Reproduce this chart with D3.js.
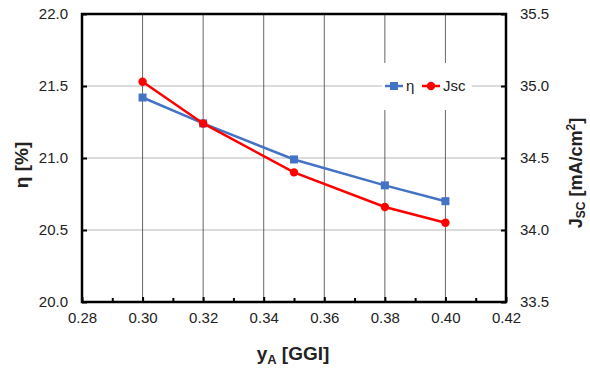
<!DOCTYPE html>
<html><head><meta charset="utf-8">
<script src="https://cdn.jsdelivr.net/npm/d3@7"></script>
<style>body{margin:0;background:#fff;} text{font-family:"Liberation Sans",Arial,sans-serif;}</style>
</head><body><svg id="c" width="590" height="369"></svg>
<script>
const xValues = [0.30, 0.32, 0.35, 0.38, 0.40];
const etaValues = [21.42, 21.24, 20.99, 20.81, 20.70];
const jscValues = [35.03, 34.74, 34.40, 34.16, 34.05];
const xTicks = [0.28, 0.30, 0.32, 0.34, 0.36, 0.38, 0.40, 0.42];
const xMinorTicks = [0.29, 0.31, 0.33, 0.35, 0.37, 0.39, 0.41];
const leftTicks = [20.0, 20.5, 21.0, 21.5, 22.0];
const rightTicks = [33.5, 34.0, 34.5, 35.0, 35.5];

const svg = d3.select("#c");
const L = 82, R = 506, T = 14, B = 302;
const x = d3.scaleLinear().domain([0.28, 0.42]).range([L, R]);
const yL = d3.scaleLinear().domain([20, 22]).range([B, T]);
const yR = d3.scaleLinear().domain([33.5, 35.5]).range([B, T]);

// horizontal gridlines
svg.append("g").selectAll("line").data(leftTicks.slice(1, -1)).join("line")
  .attr("x1", L).attr("x2", R).attr("y1", d => yL(d)).attr("y2", d => yL(d))
  .attr("stroke", "#d0d0d0").attr("stroke-width", 1.5);
// vertical gridlines
svg.append("g").selectAll("line").data(xTicks.slice(1, -1)).join("line")
  .attr("x1", d => x(d)).attr("x2", d => x(d)).attr("y1", T).attr("y2", B)
  .attr("stroke", "#404040").attr("stroke-width", 0.8);

// axes
const fmt1 = d3.format(".1f"), fmt2 = d3.format(".2f");
const gx = svg.append("g").attr("transform", `translate(0,${B})`)
  .call(d3.axisBottom(x).tickValues(xTicks).tickFormat(fmt2).tickSize(-5).tickPadding(10));
const gxm = svg.append("g").attr("transform", `translate(0,${B})`)
  .call(d3.axisBottom(x).tickValues(xMinorTicks).tickFormat("").tickSize(-4));
const gl = svg.append("g").attr("transform", `translate(${L},0)`)
  .call(d3.axisLeft(yL).tickValues(leftTicks).tickFormat(fmt1).tickSize(-5).tickPadding(14));
const gr = svg.append("g").attr("transform", `translate(${R},0)`)
  .call(d3.axisRight(yR).tickValues(rightTicks).tickFormat(fmt1).tickSize(-5).tickPadding(14));
[gx, gxm, gl, gr].forEach(g => {
  g.select(".domain").remove();
  g.selectAll(".tick line").attr("stroke", "#000").attr("stroke-width", 2);
  g.selectAll(".tick text").attr("font-size", 15).attr("fill", "#222")
    .attr("font-family", "'Liberation Sans', Arial, sans-serif");
});
// frame
svg.append("path").attr("d", `M${L},${T}H${R}V${B}H${L}Z`)
  .attr("fill", "none").attr("stroke", "#000").attr("stroke-width", 2.5);

// series
const etaData = xValues.map((v, i) => [v, etaValues[i]]);
const jscData = xValues.map((v, i) => [v, jscValues[i]]);
svg.append("path").datum(etaData)
  .attr("d", d3.line().x(d => x(d[0])).y(d => yL(d[1])))
  .attr("fill", "none").attr("stroke", "#4472C4").attr("stroke-width", 2.5);
svg.append("g").selectAll("rect").data(etaData).join("rect")
  .attr("x", d => x(d[0]) - 4).attr("y", d => yL(d[1]) - 4)
  .attr("width", 8).attr("height", 8).attr("fill", "#4472C4");
svg.append("path").datum(jscData)
  .attr("d", d3.line().x(d => x(d[0])).y(d => yR(d[1])))
  .attr("fill", "none").attr("stroke", "#FF0000").attr("stroke-width", 2.5);
svg.append("g").selectAll("circle").data(jscData).join("circle")
  .attr("cx", d => x(d[0])).attr("cy", d => yR(d[1])).attr("r", 4.2).attr("fill", "#FF0000");

// legend
const lg = svg.append("g");
lg.append("rect").attr("x", 382).attr("y", 63).attr("width", 90).attr("height", 47).attr("fill", "#fff");
const ly = 86;
lg.append("line").attr("x1", 385).attr("x2", 403).attr("y1", ly).attr("y2", ly).attr("stroke", "#4472C4").attr("stroke-width", 2.5);
lg.append("rect").attr("x", 390).attr("y", ly - 4).attr("width", 8).attr("height", 8).attr("fill", "#4472C4");
lg.append("text").attr("x", 406).attr("y", ly + 5).attr("font-size", 15).attr("fill", "#222").text("η");
lg.append("line").attr("x1", 422).attr("x2", 440).attr("y1", ly).attr("y2", ly).attr("stroke", "#FF0000").attr("stroke-width", 2.5);
lg.append("circle").attr("cx", 431).attr("cy", ly).attr("r", 4.2).attr("fill", "#FF0000");
lg.append("text").attr("x", 443).attr("y", ly + 5).attr("font-size", 15).attr("fill", "#222").text("Jsc");

// axis titles
const xt = svg.append("text").attr("x", 293).attr("y", 360).attr("text-anchor", "middle")
  .attr("font-size", 19).attr("font-weight", "bold").attr("fill", "#222");
xt.append("tspan").text("y");
xt.append("tspan").attr("font-size", 13).attr("dy", 4).text("A");
xt.append("tspan").attr("dy", -4).text(" [GGI]");

svg.append("text").attr("transform", `translate(28,165) rotate(-90)`).attr("text-anchor", "middle")
  .attr("font-size", 19).attr("font-weight", "bold").attr("fill", "#222").text("η [%]");

const rt = svg.append("text").attr("transform", `translate(582,173) rotate(-90)`).attr("text-anchor", "middle")
  .attr("font-size", 18).attr("font-weight", "bold").attr("fill", "#222");
rt.append("tspan").text("J");
rt.append("tspan").attr("font-size", 12).attr("dy", 3).text("SC");
rt.append("tspan").attr("dy", -3).text(" [mA/cm");
rt.append("tspan").attr("font-size", 12).attr("dy", -7).text("2");
rt.append("tspan").attr("dy", 7).text("]");
</script></body></html>
